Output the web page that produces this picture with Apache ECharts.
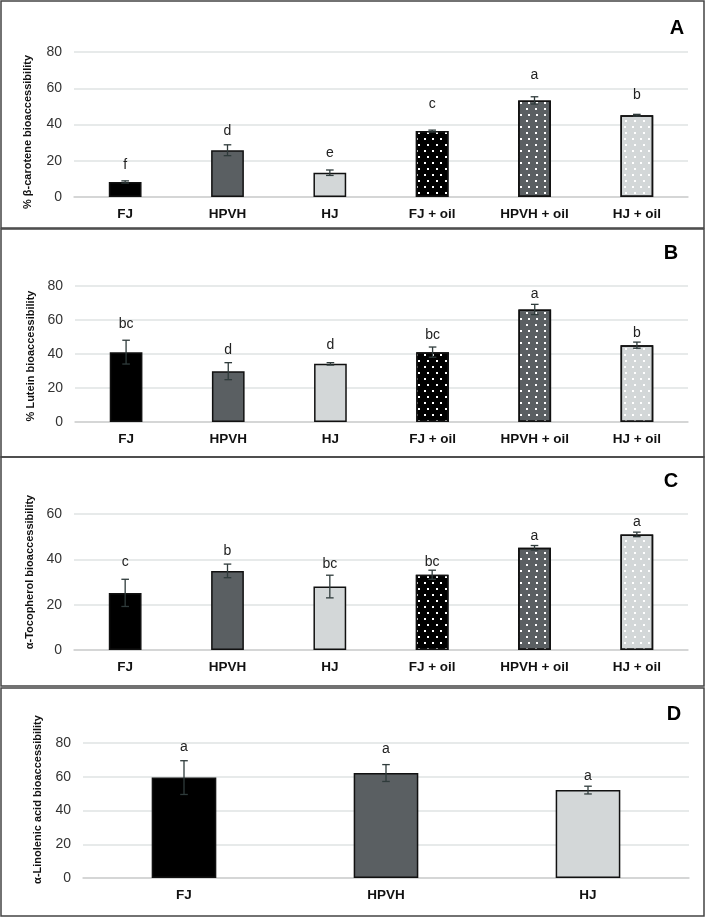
<!DOCTYPE html>
<html>
<head>
<meta charset="utf-8">
<script src="https://cdn.jsdelivr.net/npm/echarts@6/dist/echarts.min.js"></script>
<style>
html,body{margin:0;padding:0;background:#fff;}
#chart{width:708px;height:918px;}
</style>
</head>
<body>
<div id="chart"></div>
<script>
// ---------- data ----------
const categories6 = ['FJ', 'HPVH', 'HJ', 'FJ + oil', 'HPVH + oil', 'HJ + oil'];
const categories3 = ['FJ', 'HPVH', 'HJ'];

// A: β-carotene
const betaCarotene        = [8.3, 25.8, 13.4, 36.4, 53.3, 45.1];
const betaCaroteneErr     = [0.6, 3.0, 1.5, 0.5, 2.0, 0.5];
const betaCaroteneLetters = ['f', 'd', 'e', 'c', 'a', 'b'];
const betaCaroteneLetterY = [17.5, 36.4, 24.1, 51.1, 67.1, 56.1];

// B: Lutein
const lutein        = [41.1, 29.9, 34.2, 41.1, 66.2, 45.2];
const luteinErr     = [7.0, 5.0, 0.7, 3.0, 3.0, 1.8];
const luteinLetters = ['bc', 'd', 'd', 'bc', 'a', 'b'];
const luteinLetterY = [57.4, 42.3, 45.2, 51.1, 75.1, 52.5];

// C: α-Tocopherol
const tocopherol        = [25.2, 34.9, 28.0, 33.2, 45.1, 51.0];
const tocopherolErr     = [6.0, 3.0, 5.0, 2.0, 1.0, 1.0];
const tocopherolLetters = ['c', 'b', 'bc', 'bc', 'a', 'a'];
const tocopherolLetterY = [38.9, 43.5, 37.9, 38.6, 50.4, 56.6];

// D: α-Linolenic acid
const linolenic        = [59.5, 62.2, 52.1];
const linolenicErr     = [10.0, 5.0, 2.3];
const linolenicLetters = ['a', 'a', 'a'];
const linolenicLetterY = [77.8, 76.4, 60.2];

const yMaxABD = 80;
const yMaxC = 60;
const yInterval = 20;

// ---------- styles ----------
const barFill = ['#000000', '#5a5f62', '#d3d7d8'];
const dotted = [false, false, false, true, true, true];

function decalFor() {
  return {
    symbol: 'rect',
    symbolSize: 1,
    color: '#ffffff',
    dashArrayX: [[1.2, 5.5], [0, 3.35, 1.2, 2.15]],
    dashArrayY: [1.2, 3.8],
    rotation: 0
  };
}

const panels = [
  { letter: 'A', cats: categories6, vals: betaCarotene, err: betaCaroteneErr, lets: betaCaroteneLetters, letY: betaCaroteneLetterY,
    name: '% β-carotene bioaccessibility', max: yMaxABD,
    grid: { left: 74, top: 52, width: 614, height: 145 }, box: [1, 1, 703, 227], lpos: [677, 28], nameGap: 41, namePad: [0, 15, 0, 0] },
  { letter: 'B', cats: categories6, vals: lutein, err: luteinErr, lets: luteinLetters, letY: luteinLetterY,
    name: '% Lutein bioaccessibility', max: yMaxABD,
    grid: { left: 75, top: 286, width: 613, height: 136 }, box: [1, 229, 703, 228], lpos: [671, 253], nameGap: 34, namePad: [0, 4, 0, 0] },
  { letter: 'C', cats: categories6, vals: tocopherol, err: tocopherolErr, lets: tocopherolLetters, letY: tocopherolLetterY,
    name: 'α-Tocopherol bioaccessibility', max: yMaxC,
    grid: { left: 74, top: 514, width: 614, height: 136 }, box: [1, 457, 703, 229], lpos: [671, 481], nameGap: 34, namePad: [0, 0, 0, 20] },
  { letter: 'D', cats: categories3, vals: linolenic, err: linolenicErr, lets: linolenicLetters, letY: linolenicLetterY,
    name: 'α-Linolenic acid bioaccessibility', max: yMaxABD,
    grid: { left: 83, top: 743, width: 606, height: 135 }, box: [1, 688, 703, 228], lpos: [674, 714], nameGap: 40, namePad: [0, 0, 0, 22] }
];

const grids = [], xAxes = [], yAxes = [], series = [], graphics = [];
const FONT = "'Liberation Sans', Arial, sans-serif";

panels.forEach((p, i) => {
  grids.push(Object.assign({}, p.grid));
  xAxes.push({
    type: 'category', gridIndex: i, data: p.cats,
    axisLine: { show: true, lineStyle: { color: '#d0d0d0', width: 1.5 } },
    axisTick: { show: false },
    axisLabel: { color: '#111', fontFamily: FONT, fontWeight: 'bold', fontSize: 13.5, margin: 10, interval: 0 }
  });
  yAxes.push({
    type: 'value', gridIndex: i, min: 0, max: p.max, interval: yInterval,
    name: p.name, nameLocation: 'middle', nameGap: p.nameGap, nameRotate: 90,
    nameTextStyle: { color: '#111', fontFamily: FONT, fontWeight: 'bold', fontSize: 11, padding: p.namePad },
    axisLine: { show: false }, axisTick: { show: false },
    axisLabel: { color: '#333', fontFamily: FONT, fontSize: 14, margin: 12 },
    splitLine: { show: true, lineStyle: { color: '#dfe3e3', width: 1.5 } }
  });
  series.push({
    type: 'bar', xAxisIndex: i, yAxisIndex: i, barWidth: '32%',
    data: p.vals.map((v, k) => {
      const item = { value: v, itemStyle: { color: barFill[k % 3], borderColor: '#111', borderWidth: 1.5 } };
      if (p.cats.length === 6 && dotted[k]) item.itemStyle.decal = decalFor();
      return item;
    }),
    z: 2, animation: false
  });
  series.push({
    type: 'custom', xAxisIndex: i, yAxisIndex: i, z: 5, animation: false,
    data: p.vals.map((v, k) => [k, v, p.err[k], p.letY[k]]),
    renderItem: function (params, api) {
      const x = api.value(0), v = api.value(1), e = api.value(2), ly = api.value(3);
      const top = api.coord([x, v + e]);
      const bot = api.coord([x, v - e]);
      const lab = api.coord([x, ly]);
      const cw = 3.8;
      const st = { stroke: '#2f3b3b', lineWidth: 1.3 };
      return {
        type: 'group',
        children: [
          { type: 'line', shape: { x1: top[0], y1: top[1], x2: bot[0], y2: bot[1] }, style: st },
          { type: 'line', shape: { x1: top[0] - cw, y1: top[1], x2: top[0] + cw, y2: top[1] }, style: st },
          { type: 'line', shape: { x1: bot[0] - cw, y1: bot[1], x2: bot[0] + cw, y2: bot[1] }, style: st },
          { type: 'text', x: lab[0], y: lab[1],
            style: { text: p.lets[params.dataIndex], fill: '#222', font: '14px ' + FONT, align: 'center', verticalAlign: 'middle' } }
        ]
      };
    }
  });
  graphics.push({
    type: 'rect', shape: { x: p.box[0], y: p.box[1], width: p.box[2], height: p.box[3] },
    style: { fill: null, stroke: '#444', lineWidth: 1.5 }, z: 10, silent: true
  });
  graphics.push({
    type: 'text', x: p.lpos[0], y: p.lpos[1],
    style: { text: p.letter, fill: '#000', font: 'bold 20px ' + FONT, align: 'center', verticalAlign: 'middle' }, z: 10
  });
});

const chart = echarts.init(document.getElementById('chart'), null, { renderer: 'canvas' });
chart.setOption({
  backgroundColor: '#ffffff',
  animation: false,
  grid: grids, xAxis: xAxes, yAxis: yAxes, series: series, graphic: graphics
});
</script>
</body>
</html>
